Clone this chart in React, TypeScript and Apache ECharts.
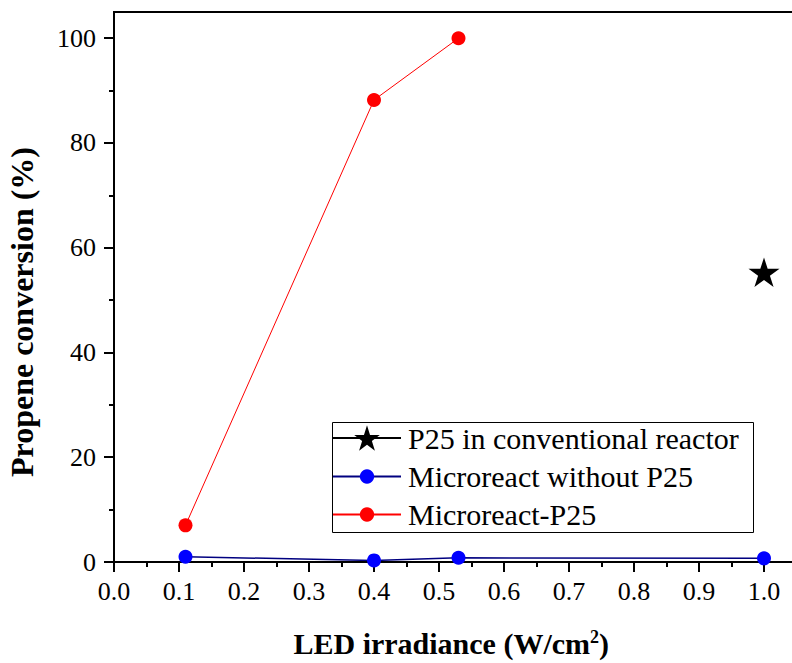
import React, { useEffect, useRef } from "react";
import * as echarts from "echarts";

const seriesNames = ["P25 in conventional reactor", "Microreact without P25", "Microreact-P25"];
const conventionalX = [1.0];
const conventionalY = [55.3];
const withoutP25X = [0.11, 0.4, 0.53, 1.0];
const withoutP25Y = [1.0, 0.3, 0.8, 0.7];
const microP25X = [0.11, 0.4, 0.53];
const microP25Y = [7.0, 88.2, 100.0];

const xMajorTicks = [0, 0.1, 0.2, 0.3, 0.4, 0.5, 0.6, 0.7, 0.8, 0.9, 1.0];
const xMinorTicks = [0.05, 0.15, 0.25, 0.35, 0.45, 0.55, 0.65, 0.75, 0.85, 0.95];
const yMajorTicks = [0, 20, 40, 60, 80, 100];
const yMinorTicks = [10, 30, 50, 70, 90];

const FONT = "Times New Roman";
const X_MAX = 1.05;
const STAR =
  "path://M50 0 L61.23 34.55 L97.55 34.55 L68.16 55.9 L79.39 90.45 L50 69.1 L20.61 90.45 L31.84 55.9 L2.45 34.55 L38.77 34.55 Z";

const zip = (xs: number[], ys: number[]) => xs.map((x, i) => [x, ys[i]]);

export default function App() {
  const ref = useRef<HTMLDivElement>(null);
  useEffect(() => {
    document.body.style.margin = "0";
    const chart = echarts.init(ref.current!, null, { renderer: "svg" });
    const legendBase = {
      orient: "vertical" as const,
      left: 332,
      padding: 0,
      itemWidth: 68,
      textStyle: { fontFamily: FONT, fontSize: 30, color: "#000", padding: [0, 0, 0, 2] },
      selectedMode: false,
    };
    chart.setOption({
      animation: false,
      backgroundColor: "#fff",
      textStyle: { fontFamily: FONT },
      grid: {
        left: 114,
        top: 12,
        width: 682.5,
        height: 550,
        outerBoundsMode: "none",
        containLabel: false,
        show: true,
        borderColor: "#000",
        borderWidth: 2,
      },
      legend: [
        { ...legendBase, top: 423, itemHeight: 32, data: [seriesNames[0]] },
        { ...legendBase, top: 461.5, itemHeight: 18, data: [seriesNames[1]] },
        { ...legendBase, top: 499.5, itemHeight: 18, data: [seriesNames[2]] },
      ],
      graphic: [
        {
          type: "rect",
          shape: { x: 332.5, y: 422.5, width: 421, height: 110 },
          style: { fill: "none", stroke: "#000", lineWidth: 1 },
          z: 1,
        },
        {
          type: "text",
          x: 22,
          y: 312,
          rotation: Math.PI / 2,
          style: {
            text: "Propene conversion (%)",
            fontFamily: FONT,
            fontSize: 32,
            fontWeight: "bold",
            fill: "#000",
            align: "center",
            verticalAlign: "middle",
          },
        },
      ],
      xAxis: [
        {
          type: "value",
          min: 0,
          max: X_MAX,
          interval: 0.1,
          name: "LED irradiance (W/cm{sup|2})",
          nameLocation: "middle",
          nameGap: 66,
          nameTextStyle: {
            fontFamily: FONT,
            fontSize: 30,
            fontWeight: "bold",
            color: "#000",
            lineHeight: 30,
            padding: [0, 8, 0, 0],
            rich: {
              sup: { fontFamily: FONT, fontSize: 18, fontWeight: "bold", color: "#000", lineHeight: 18, padding: [0, 0, 12, 0] },
            },
          },
          axisLine: { show: true, lineStyle: { color: "#000", width: 2 } },
          axisTick: { show: true, inside: false, length: 10, customValues: xMajorTicks, lineStyle: { color: "#000", width: 2 } },
          axisLabel: {
            customValues: xMajorTicks,
            margin: 16,
            fontFamily: FONT,
            fontSize: 26,
            color: "#000",
            formatter: (v: number) => v.toFixed(1),
          },
          splitLine: { show: false },
        },
        {
          type: "value",
          min: 0,
          max: X_MAX,
          position: "bottom",
          axisLine: { show: false },
          axisTick: { show: true, inside: false, length: 5, customValues: xMinorTicks, lineStyle: { color: "#000", width: 2 } },
          axisLabel: { show: false },
          splitLine: { show: false },
        },
      ],
      yAxis: [
        {
          type: "value",
          min: 0,
          max: 105,
          interval: 20,
          axisLine: { show: true, lineStyle: { color: "#000", width: 2 } },
          axisTick: { show: true, inside: false, length: 10, customValues: yMajorTicks, lineStyle: { color: "#000", width: 2 } },
          axisLabel: {
            customValues: yMajorTicks,
            margin: 18,
            fontFamily: FONT,
            fontSize: 26,
            color: "#000",
          },
          splitLine: { show: false },
        },
        {
          type: "value",
          min: 0,
          max: 105,
          position: "left",
          axisLine: { show: false },
          axisTick: { show: true, inside: false, length: 5, customValues: yMinorTicks, lineStyle: { color: "#000", width: 2 } },
          axisLabel: { show: false },
          splitLine: { show: false },
        },
      ],
      series: [
        {
          name: seriesNames[0],
          type: "line",
          data: zip(conventionalX, conventionalY),
          symbol: STAR,
          symbolSize: 31,
          symbolKeepAspect: true,
          itemStyle: { color: "#000" },
          lineStyle: { color: "#000", width: 1 },
          z: 5,
        },
        {
          name: seriesNames[1],
          type: "line",
          data: zip(withoutP25X, withoutP25Y),
          symbol: "circle",
          symbolSize: 14,
          itemStyle: { color: "#0000ff" },
          lineStyle: { color: "#000080", width: 1.5 },
          clip: false,
          z: 5,
        },
        {
          name: seriesNames[2],
          type: "line",
          data: zip(microP25X, microP25Y),
          symbol: "circle",
          symbolSize: 14,
          itemStyle: { color: "#ff0000" },
          lineStyle: { color: "#ff0000", width: 1 },
          clip: false,
          z: 5,
        },
      ],
    });
    return () => chart.dispose();
  }, []);
  return <div ref={ref} style={{ width: 792, height: 663 }} />;
}
